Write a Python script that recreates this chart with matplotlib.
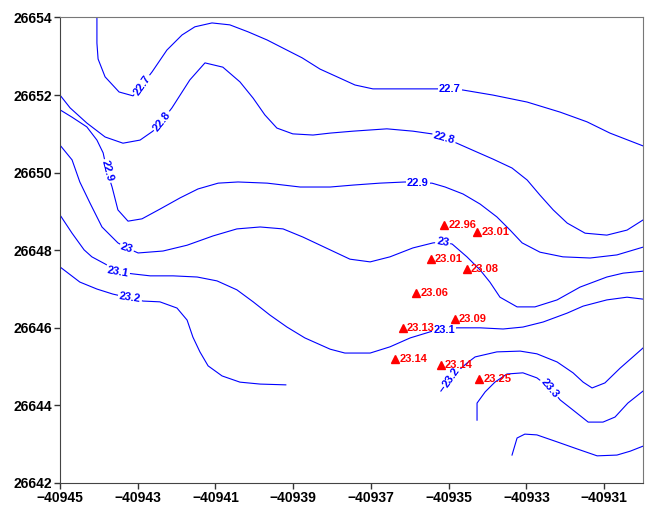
import matplotlib.pyplot as plt

plt.rcParams['font.family'] = ['Liberation Sans', 'DejaVu Sans']

# contour polylines (x = easting, y = northing)
x_227 = [-40944.05, -40944.05, -40944.02, -40943.84, -40943.48, -40943.12, -40942.89, -40942.63,
         -40942.25, -40941.86, -40941.53, -40941.09, -40940.63, -40940.16, -40939.67, -40939.26,
         -40938.77, -40938.31, -40937.87, -40937.41, -40936.95, -40936.18, -40935.40, -40934.97,
         -40934.63, -40933.86, -40932.98, -40932.13, -40931.44, -40930.85, -40930.00]
y_227 = [26654.00, 26653.34, 26652.93, 26652.47, 26652.08, 26651.98, 26652.26, 26652.60,
         26653.16, 26653.55, 26653.76, 26653.86, 26653.81, 26653.63, 26653.42, 26653.21,
         26652.96, 26652.67, 26652.47, 26652.26, 26652.16, 26652.16, 26652.16, 26652.16,
         26652.13, 26652.00, 26651.82, 26651.56, 26651.31, 26651.02, 26650.69]

x_228 = [-40945.00, -40944.74, -40944.31, -40943.84, -40943.38, -40942.94, -40942.61, -40942.38,
         -40942.12, -40941.66, -40941.27, -40940.81, -40940.37, -40940.03, -40939.73, -40939.42,
         -40939.01, -40938.49, -40938.05, -40937.46, -40936.59, -40935.92, -40935.43, -40935.12,
         -40934.79, -40934.27, -40933.86, -40933.37, -40932.98, -40932.65, -40932.31, -40931.95,
         -40931.49, -40930.93, -40930.41, -40930.00]
y_228 = [26652.00, 26651.67, 26651.28, 26650.92, 26650.76, 26650.84, 26651.07, 26651.33,
         26651.67, 26652.39, 26652.83, 26652.72, 26652.34, 26651.92, 26651.49, 26651.15,
         26651.00, 26650.97, 26651.02, 26651.07, 26651.13, 26651.07, 26651.00, 26650.89,
         26650.76, 26650.53, 26650.35, 26650.12, 26649.81, 26649.42, 26649.04, 26648.70,
         26648.44, 26648.39, 26648.52, 26648.78]

x_229 = [-40945.00, -40944.69, -40944.31, -40944.05, -40943.89, -40943.79, -40943.66, -40943.51,
         -40943.25, -40942.89, -40942.43, -40941.91, -40941.45, -40940.93, -40940.42, -40939.67,
         -40938.82, -40938.05, -40937.46, -40936.77, -40936.12, -40935.79, -40935.43, -40935.09,
         -40934.63, -40934.19, -40933.76, -40933.42, -40933.11, -40932.65, -40932.06, -40931.36,
         -40930.67, -40930.00]
y_229 = [26651.62, 26651.43, 26651.18, 26650.84, 26650.51, 26650.04, 26649.63, 26649.04,
         26648.75, 26648.81, 26649.06, 26649.35, 26649.58, 26649.73, 26649.76, 26649.73,
         26649.63, 26649.63, 26649.68, 26649.73, 26649.76, 26649.73, 26649.73, 26649.63,
         26649.45, 26649.19, 26648.86, 26648.52, 26648.19, 26647.95, 26647.83, 26647.80,
         26647.88, 26648.08]

x_230 = [-40945.00, -40944.69, -40944.49, -40944.23, -40943.92, -40943.51, -40943.28, -40942.99,
         -40942.35, -40941.73, -40941.06, -40940.45, -40939.85, -40939.26, -40938.75, -40938.05,
         -40937.54, -40937.02, -40936.51, -40935.92, -40935.40, -40935.15, -40934.91, -40934.53,
         -40934.19, -40933.94, -40933.68, -40933.24, -40932.78, -40932.21, -40931.62, -40930.93,
         -40930.51, -40930.00]
y_230 = [26650.71, 26650.33, 26649.76, 26649.22, 26648.60, 26648.19, 26648.06, 26647.93,
         26647.98, 26648.13, 26648.37, 26648.55, 26648.60, 26648.55, 26648.34, 26648.01,
         26647.77, 26647.70, 26647.83, 26648.06, 26648.19, 26648.21, 26648.16, 26647.83,
         26647.49, 26647.18, 26646.79, 26646.54, 26646.54, 26646.72, 26647.05, 26647.31,
         26647.41, 26647.46]

x_231 = [-40945.00, -40944.69, -40944.38, -40944.18, -40943.79, -40943.51, -40943.12, -40942.68,
         -40942.09, -40941.47, -40940.96, -40940.45, -40940.03, -40939.60, -40939.16, -40938.70,
         -40938.05, -40937.67, -40937.02, -40936.51, -40935.99, -40935.40, -40935.12, -40934.79,
         -40934.19, -40933.60, -40933.09, -40932.57, -40931.95, -40931.54, -40930.93, -40930.41,
         -40930.00]
y_231 = [26648.91, 26648.44, 26648.01, 26647.83, 26647.62, 26647.44, 26647.39, 26647.34,
         26647.34, 26647.31, 26647.21, 26646.98, 26646.67, 26646.33, 26646.02, 26645.74,
         26645.45, 26645.35, 26645.35, 26645.51, 26645.74, 26645.92, 26645.94, 26646.00,
         26646.00, 26645.97, 26646.02, 26646.15, 26646.38, 26646.56, 26646.72, 26646.79,
         26646.74]

x_232a = [-40945.00, -40944.49, -40944.05, -40943.64, -40943.20, -40942.86, -40942.43, -40941.99,
          -40941.73, -40941.58, -40941.40, -40941.19, -40940.83, -40940.37, -40939.85, -40939.19]
y_232a = [26647.57, 26647.18, 26647.00, 26646.87, 26646.77, 26646.69, 26646.67, 26646.51,
          26646.20, 26645.76, 26645.38, 26645.02, 26644.76, 26644.60, 26644.55, 26644.53]

x_232b = [-40935.20, -40934.94, -40934.53, -40934.32, -40933.76, -40933.16, -40932.73, -40932.21,
          -40931.80, -40931.54, -40931.31, -40930.98, -40930.59, -40930.26, -40930.00]
y_232b = [26644.37, 26644.73, 26645.09, 26645.25, 26645.38, 26645.40, 26645.33, 26645.12,
          26644.84, 26644.60, 26644.45, 26644.58, 26644.96, 26645.25, 26645.48]

x_233 = [-40934.27, -40934.27, -40934.06, -40933.81, -40933.50, -40933.09, -40932.73, -40932.39,
         -40932.13, -40931.80, -40931.41, -40931.03, -40930.72, -40930.39, -40930.00]
y_233 = [26643.62, 26644.06, 26644.35, 26644.60, 26644.81, 26644.84, 26644.71, 26644.45,
         26644.14, 26643.88, 26643.57, 26643.57, 26643.70, 26644.06, 26644.37]

x_234 = [-40933.37, -40933.24, -40933.04, -40932.73, -40932.21, -40931.70, -40931.18, -40930.67,
         -40930.33, -40930.00]
y_234 = [26642.72, 26643.16, 26643.26, 26643.24, 26643.06, 26642.88, 26642.70, 26642.72,
         26642.82, 26642.95]

contour_x = [x_227, x_228, x_229, x_230, x_231, x_232a, x_232b, x_233, x_234]
contour_y = [y_227, y_228, y_229, y_230, y_231, y_232a, y_232b, y_233, y_234]

# contour labels: text, position, angle
label_text = ["22.7", "22.7", "22.8", "22.8", "22.9", "22.9", "23", "23",
              "23.1", "23.1", "23.2", "23.2", "23.3"]
label_x = [-40942.89, -40934.97, -40942.38, -40935.12, -40943.79, -40935.79, -40943.28, -40935.15,
           -40943.51, -40935.12, -40943.20, -40934.94, -40932.39]
label_y = [26652.26, 26652.16, 26651.33, 26650.89, 26650.04, 26649.73, 26648.06, 26648.21,
           26647.44, 26645.94, 26646.77, 26644.73, 26644.45]
label_rot = [55, 0, 52, -15, -75, 0, -18, -10, -10, 0, -8, 55, -50]

# sample points
pt_x = [-40935.12, -40934.27, -40935.46, -40934.53, -40935.84,
        -40934.84, -40936.18, -40936.38, -40935.20, -40934.22]
pt_y = [26648.65, 26648.47, 26647.77, 26647.52, 26646.90,
        26646.23, 26646.00, 26645.20, 26645.04, 26644.68]
pt_val = ["22.96", "23.01", "23.01", "23.08", "23.06",
          "23.09", "23.13", "23.14", "23.14", "23.25"]

fig = plt.figure(figsize=(6.52, 5.11), dpi=100)
ax = fig.add_axes([60 / 652, 28 / 511, 583 / 652, 465.5 / 511])

for xs, ys in zip(contour_x, contour_y):
    ax.plot(xs, ys, color='#0000ff', lw=0.8, zorder=2)

for t, x, y, r in zip(label_text, label_x, label_y, label_rot):
    ax.text(x, y, t, color='#0000ff', fontsize=8, fontweight='bold', rotation=r,
            rotation_mode='anchor', ha='center', va='center', zorder=3,
            bbox=dict(boxstyle='square,pad=0.12', fc='white', ec='none'))

ax.plot(pt_x, pt_y, linestyle='none', marker='^', color='red', markersize=5.5, zorder=4)
for x, y, v in zip(pt_x, pt_y, pt_val):
    ax.annotate(v, (x, y), xytext=(3, 0), textcoords='offset points', color='red',
                fontsize=8, fontweight='bold', ha='left', va='center', zorder=5)

ax.set_xlim(-40945, -40930)
ax.set_ylim(26642, 26654)
ax.set_xticks(range(-40945, -40930, 2))
ax.set_yticks(range(26642, 26655, 2))
ax.ticklabel_format(useOffset=False, style='plain')
ax.tick_params(direction='out', length=4, width=1, labelsize=10, pad=2, color='#333333')
for lab in ax.get_xticklabels() + ax.get_yticklabels():
    lab.set_fontweight('bold')
for s in ['left', 'bottom']:
    ax.spines[s].set_color('#444444')
for s in ['top', 'right']:
    ax.spines[s].set_color('#777777')

fig.savefig('out.png', dpi=100)
